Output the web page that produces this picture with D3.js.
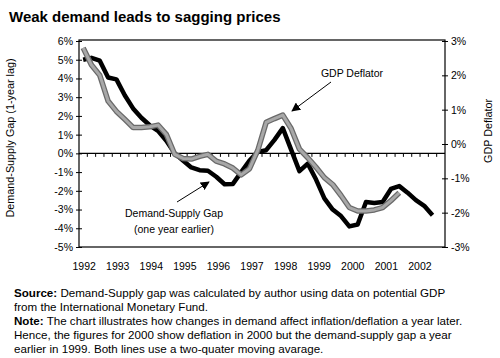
<!DOCTYPE html>
<html>
<head>
<meta charset="utf-8">
<script src="https://cdn.jsdelivr.net/npm/d3@7"></script>
<style>
  html, body { margin: 0; padding: 0; background: #fff; }
  svg { display: block; font-family: "Liberation Sans", Arial, sans-serif; }
</style>
</head>
<body>
<svg id="chart" width="500" height="358"></svg>
<script>
// ---- Data (quarterly, index 0 = 1992 Q1) ----
const years = [1992, 1993, 1994, 1995, 1996, 1997, 1998, 1999, 2000, 2001, 2002];
const leftTicks = [6, 5, 4, 3, 2, 1, 0, -1, -2, -3, -4, -5];
const rightTicks = [3, 2, 1, 0, -1, -2, -3];
// Demand-Supply Gap (one year earlier), % (left axis)
const gapValues = [5.0, 5.1, 4.95, 4.05, 3.95, 3.1, 2.4, 1.9, 1.5, 1.2, 0.67, 0.0,
  -0.38, -0.75, -0.9, -0.93, -1.25, -1.65, -1.63, -1.0, -0.38, 0.08, 0.17, 0.72,
  1.35, 0.2, -0.95, -0.55, -1.4, -2.4, -3.0, -3.35, -3.9, -3.8, -2.6, -2.65,
  -2.6, -1.9, -1.75, -2.1, -2.5, -2.8, -3.3];
// GDP Deflator, % (right axis)
const deflatorValues = [2.8, 2.3, 2.0, 1.25, 0.95, 0.72, 0.48, 0.48, 0.5, 0.55, 0.28, -0.3,
  -0.42, -0.44, -0.36, -0.3, -0.5, -0.58, -0.7, -0.9, -0.72, -0.18, 0.63, 0.74,
  0.84, 0.45, -0.15, -0.4, -0.68, -0.98, -1.18, -1.5, -1.85, -1.95, -1.95, -1.92,
  -1.85, -1.65, -1.42];
const nQuarters = 44;

const title = "Weak demand leads to sagging prices";
const leftTitle = "Demand-Supply Gap (1-year lag)";
const rightTitle = "GDP Deflator";
const notes = [
  [{b: "Source:"}, " Demand-Supply gap was calculated by author using data on potential GDP"],
  ["from the International Monetary Fund."],
  [{b: "Note:"}, " The chart illustrates how changes in demand affect inflation/deflation a year later."],
  ["Hence, the figures for 2000 show deflation in 2000 but the demand-supply gap a year"],
  ["earlier in 1999. Both lines use a two-quater moving avarage."]
];

// ---- Layout ----
const svg = d3.select("#chart");
const L = 79, R = 445, T = 41, B = 247;

const x = d3.scaleLinear().domain([-0.5, nQuarters - 0.5]).range([L, R]);
const yL = d3.scaleLinear().domain([-5, 6]).range([B, T]);
const yR = d3.scaleLinear().domain([-3, 3]).range([B, T]);

// Title
svg.append("text").attr("x", 9).attr("y", 22)
  .attr("font-size", 15).attr("font-weight", "bold").attr("fill", "#000")
  .text(title);

// Plot border
svg.append("rect").attr("x", L).attr("y", T - 1).attr("width", R - L).attr("height", B - T + 1)
  .attr("fill", "none").attr("stroke", "#000").attr("stroke-width", 1.2);

// Left axis
const axL = d3.axisLeft(yL).tickValues(leftTicks).tickSize(0).tickPadding(6)
  .tickFormat(d => d + "%");
const gL = svg.append("g").attr("transform", `translate(${L},0)`).call(axL);
gL.select(".domain").remove();
gL.selectAll("text").attr("font-size", 10.5).attr("font-family", "Liberation Sans, Arial, sans-serif").attr("fill", "#000");
gL.selectAll(".tick").append("line").attr("x1", -3).attr("x2", 3).attr("stroke", "#000");

// Right axis
const axR = d3.axisRight(yR).tickValues(rightTicks).tickSize(0).tickPadding(6)
  .tickFormat(d => d + "%");
const gR = svg.append("g").attr("transform", `translate(${R},0)`).call(axR);
gR.select(".domain").remove();
gR.selectAll("text").attr("font-size", 10.5).attr("font-family", "Liberation Sans, Arial, sans-serif").attr("fill", "#000");
gR.selectAll(".tick").append("line").attr("x1", -3).attr("x2", 3).attr("stroke", "#000");

// Axis titles
svg.append("text").attr("transform", `translate(14,${(T + B) / 2 - 6}) rotate(-90)`)
  .attr("text-anchor", "middle").attr("font-size", 10.8).attr("fill", "#000").text(leftTitle);
svg.append("text").attr("transform", `translate(492,131) rotate(-90)`)
  .attr("text-anchor", "middle").attr("font-size", 10.8).attr("fill", "#000").text(rightTitle);

// Zero line with quarter ticks
const y0 = yL(0);
svg.append("line").attr("x1", L).attr("x2", R).attr("y1", y0).attr("y2", y0)
  .attr("stroke", "#000").attr("stroke-width", 1.2);
svg.append("g").selectAll("line").data(d3.range(1, nQuarters)).join("line")
  .attr("x1", d => x(d - 0.5)).attr("x2", d => x(d - 0.5))
  .attr("y1", y0).attr("y2", y0 + 3.5).attr("stroke", "#000").attr("stroke-width", 1);

// Year labels
svg.append("g").selectAll("text").data(years).join("text")
  .attr("x", (d, i) => x(i * 4) + 1 + i * 0.3).attr("y", 270)
  .attr("text-anchor", "middle").attr("font-size", 10.5).attr("fill", "#000")
  .text(d => d);

// Lines
const gapLine = d3.line().x((d, i) => x(i)).y(d => yL(d));
const defLine = d3.line().x((d, i) => x(i)).y(d => yR(d));

svg.append("path").datum(gapValues).attr("d", gapLine)
  .attr("fill", "none").attr("stroke", "#000").attr("stroke-width", 4.5)
  .attr("stroke-linejoin", "round");
svg.append("path").datum(deflatorValues).attr("d", defLine)
  .attr("fill", "none").attr("stroke", "#6a6a6a").attr("stroke-width", 5.5)
  .attr("stroke-linejoin", "round");
svg.append("path").datum(deflatorValues).attr("d", defLine)
  .attr("fill", "none").attr("stroke", "#a8a8a8").attr("stroke-width", 3)
  .attr("stroke-linejoin", "round");

// Annotations with arrows
const defs = svg.append("defs");
defs.append("marker").attr("id", "arr").attr("viewBox", "0 0 10 10")
  .attr("refX", 9).attr("refY", 5).attr("markerWidth", 9).attr("markerHeight", 9)
  .attr("markerUnits", "userSpaceOnUse").attr("orient", "auto")
  .append("path").attr("d", "M0,0 L10,5 L0,10 z").attr("fill", "#000");

svg.append("line").attr("x1", 331).attr("y1", 82).attr("x2", 292).attr("y2", 111)
  .attr("stroke", "#000").attr("stroke-width", 1).attr("marker-end", "url(#arr)");
svg.append("text").attr("x", 352).attr("y", 77).attr("text-anchor", "middle")
  .attr("font-size", 10.5).attr("fill", "#000").text("GDP Deflator");

svg.append("line").attr("x1", 177).attr("y1", 202).attr("x2", 209).attr("y2", 182)
  .attr("stroke", "#000").attr("stroke-width", 1).attr("marker-end", "url(#arr)");
svg.append("text").attr("x", 174).attr("y", 217).attr("text-anchor", "middle")
  .attr("font-size", 10.5).attr("fill", "#000").text("Demand-Supply Gap");
svg.append("text").attr("x", 174).attr("y", 233).attr("text-anchor", "middle")
  .attr("font-size", 10.5).attr("fill", "#000").text("(one year earlier)");

// Notes
const noteG = svg.append("g");
notes.forEach((line, i) => {
  const t = noteG.append("text").attr("x", 14).attr("y", 297 + i * 14)
    .attr("font-size", 11.6).attr("fill", "#000");
  line.forEach(part => {
    if (typeof part === "string") t.append("tspan").text(part);
    else t.append("tspan").attr("font-weight", "bold").text(part.b);
  });
});
</script>
</body>
</html>
